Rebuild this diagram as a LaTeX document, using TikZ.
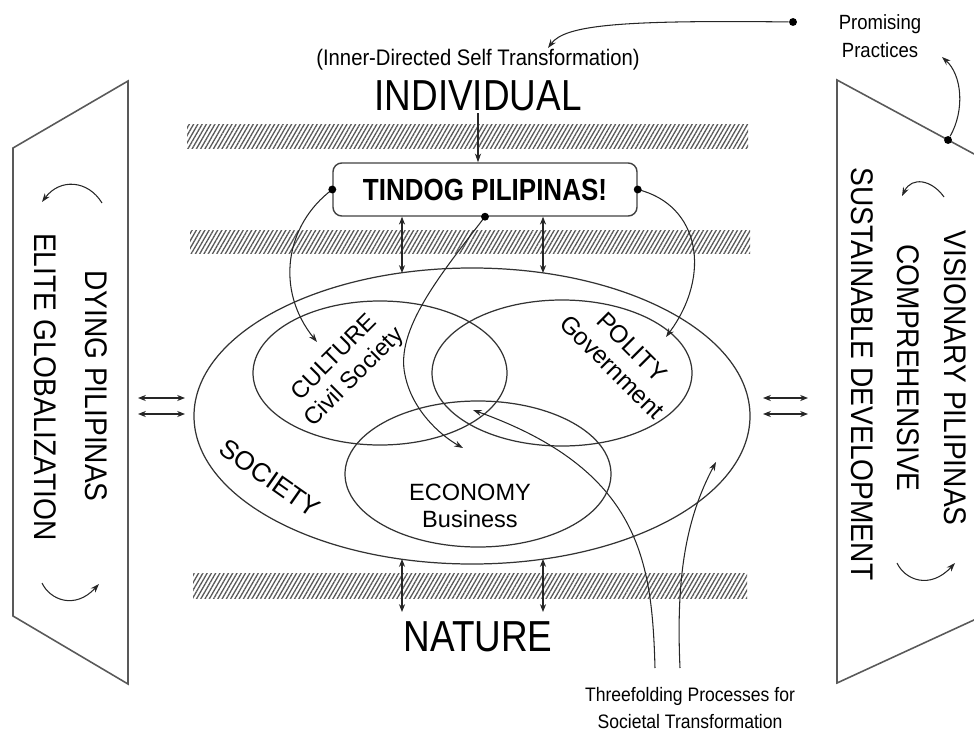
\documentclass[tikz,border=0pt]{standalone}
\usepackage{fontspec}
\setmainfont{Liberation Sans}
\newfontfamily\narrowfont{Liberation Sans}[FakeStretch=0.85]
\newfontfamily\semifont{Liberation Sans}[FakeStretch=0.9]
\usetikzlibrary{shapes.geometric,patterns.meta,arrows.meta}

\tikzset{
  ring/.style={draw=black!80, line width=0.7pt, ellipse, inner sep=0pt},
  panel/.style={draw=black!65, line width=0.9pt},
  hatchbar/.style={pattern={Lines[angle=60,distance=2.1pt,line width=0.75pt]}, pattern color=black!65},
  link/.style={draw=black!85, line width=0.6pt, -{Stealth[length=5pt,width=3.5pt]}},
  both/.style={draw=black!85, line width=0.6pt, {Stealth[length=4.5pt,width=3.5pt]}-{Stealth[length=4.5pt,width=3.5pt]}},
  dot/.style={circle, fill=black, inner sep=0pt, minimum size=4.5pt},
  sidetext/.style={rotate=-90, inner sep=0pt, font=\semifont\fontsize{17.8}{20}\selectfont},
}

\begin{document}
\begin{tikzpicture}[x=0.2mm, y=-0.2mm]
  \useasboundingbox (0,0) rectangle (974,740);

  % side panels
  \draw[panel] (128,81) -- (13,148) -- (13,616) -- (128,684) -- cycle;
  \begin{scope}
    \clip (0,0) rectangle (974,740);
    \draw[panel] (1000,168) -- (837,80) -- (837,683) -- (1000,608);
  \end{scope}

  \node[sidetext] (dying) at (96,386) {DYING PILIPINAS};
  \node[sidetext] (elite) at (45,387) {ELITE GLOBALIZATION};
  \node[sidetext] (vision) at (955,378) {VISIONARY PILIPINAS};
  \node[sidetext] (compre) at (908,368) {COMPREHENSIVE};
  \node[sidetext] (sustain) at (862,374) {SUSTAINABLE DEVELOPMENT};

  % small swirl arrows in the panels
  \draw[link] (102,203) .. controls (88,180) and (60,178) .. (42,202);
  \draw[link] (42,583) .. controls (50,600) and (75,610) .. (99,584);
  \draw[link] (944,197) .. controls (932,180) and (912,176) .. (902,196);
  \draw[link] (897,563) .. controls (905,580) and (930,590) .. (955,563);

  % hatched layers
  \fill[hatchbar] (187,125) rectangle (748,148);
  \fill[hatchbar] (190,230) rectangle (750,253);
  \fill[hatchbar] (193,573) rectangle (747,598);

  % labels
  \node[font=\semifont\fontsize{12.8}{15}\selectfont] (inner) at (478,60) {(Inner-Directed Self Transformation)};
  \node[font=\narrowfont\fontsize{24.7}{28}\selectfont, inner sep=1pt] (indiv) at (478,96) {INDIVIDUAL};
  \node[font=\narrowfont\fontsize{24.7}{28}\selectfont] (nature) at (478,637) {NATURE};
  \node[align=center, font=\semifont\fontsize{11.7}{15.8}\selectfont] (promise) at (880,36) {Promising\\Practices};
  \node[align=center, font=\semifont\fontsize{11.1}{15.3}\selectfont] (three) at (690,708) {Threefolding Processes for\\Societal Transformation};

  \node[draw=black!75, line width=0.8pt, rounded corners=5pt, minimum width=60.8mm, minimum height=10.6mm,
        font=\narrowfont\bfseries\fontsize{17.4}{20}\selectfont] (tindog) at (485,189.5) {TINDOG PILIPINAS!};

  % society and its three spheres
  \node[ring, minimum width=111.2mm, minimum height=59.2mm] (soc) at (472,416) {};
  \node[ring, minimum width=50.8mm, minimum height=28.8mm] (cul) at (380,373) {};
  \node[ring, minimum width=52mm, minimum height=29.2mm] (pol) at (562,373) {};
  \node[ring, minimum width=53.2mm, minimum height=29.2mm] (eco) at (478,474) {};

  \node[rotate=45, align=center, font=\fontsize{13.5}{16}\selectfont] (cultxt) at (345,368) {CULTURE\\Civil Society};
  \node[rotate=-45, align=center, font=\fontsize{14}{16}\selectfont] (poltxt) at (622,357) {POLITY\\Government};
  \node[align=center, font=\fontsize{13.4}{15.5}\selectfont] (ecotxt) at (470,506) {ECONOMY\\Business};
  \node[rotate=-35, font=\fontsize{15}{18}\selectfont] (soctxt) at (270,478) {SOCIETY};

  % arrow ends
  \coordinate (socA) at (402,273);
  \coordinate (socB) at (543,273);
  \coordinate (socC) at (402,559);
  \coordinate (socD) at (543,559);
  \coordinate (natA) at (402,612);
  \coordinate (natB) at (543,612);
  \coordinate (culend) at (317,342);
  \coordinate (polend) at (666,337);
  \coordinate (ecoend) at (463,448);
  \coordinate (midend) at (473,410);
  \coordinate (rimend) at (716,462);
  \coordinate (threeA) at (655,668);
  \coordinate (threeB) at (680,668);
  \coordinate (innerend) at (548,48);
  \coordinate (promend) at (942,57);

  % connectors
  \draw[link] (indiv.south) -- (indiv.south |- tindog.north);
  \draw[both] (tindog.south -| socA) -- (socA);
  \draw[both] (tindog.south -| socB) -- (socB);
  \draw[both] (socC) -- (natA);
  \draw[both] (socD) -- (natB);

  \draw[link] (tindog.west) .. controls (285,225) and (275,290) .. (culend);
  \draw[link] (tindog.east) .. controls (700,205) and (712,275) .. (polend);
  \draw[link] (tindog.south) .. controls (440,275) and (395,330) .. (405,375)
                             .. controls (412,410) and (440,435) .. (ecoend);
  \draw[link] (threeA) .. controls (652,560) and (640,470) .. (midend);
  \draw[link] (threeB) .. controls (676,580) and (685,520) .. (rimend);

  \node[dot] at (tindog.west) {};
  \node[dot] at (tindog.east) {};
  \node[dot] at (tindog.south) {};

  \node[dot] (pdot) at (793,22) {};
  \draw[link] (pdot) .. controls (620,20) and (565,25) .. (innerend);
  \node[dot] (tdot) at (948,140) {};
  \draw[link] (tdot) .. controls (965,110) and (962,75) .. (promend);

  % side exchanges
  \draw[both] (138,398) -- (185,398);
  \draw[both] (138,414) -- (185,414);
  \draw[both] (763,398) -- (808,398);
  \draw[both] (763,414) -- (808,414);
\end{tikzpicture}
\end{document}
